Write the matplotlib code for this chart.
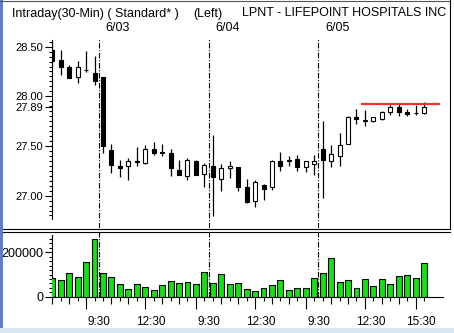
import matplotlib
matplotlib.use('Agg')
import matplotlib.pyplot as plt
import matplotlib.transforms as mtransforms
from matplotlib.patches import Rectangle
import numpy as np

plt.rcParams['font.family'] = ['Liberation Sans', 'DejaVu Sans']

# ---------------- data ----------------
opens = [28.47, 28.37, 28.30, 28.19, 28.26, 28.23, 28.19, 27.46, 27.30, 27.30,
         27.35, 27.33, 27.47, 27.44, 27.43, 27.26, 27.20, 27.35, 27.22, 27.30,
         27.17, 27.28, 27.29, 27.09, 26.95, 27.11, 27.09, 27.35, 27.35, 27.37,
         27.29, 27.32, 27.47, 27.35, 27.40, 27.52, 27.79, 27.755, 27.75, 27.77,
         27.84, 27.89, 27.84, 27.83, 27.83]
closes = [28.355, 28.30, 28.18, 28.29, 28.265, 28.15, 27.50, 27.31, 27.28, 27.35,
          27.34, 27.47, 27.43, 27.43, 27.28, 27.21, 27.36, 27.21, 27.31, 27.19,
          27.28, 27.30, 27.09, 26.94, 27.14, 27.07, 27.35, 27.30, 27.355, 27.29,
          27.35, 27.35, 27.36, 27.42, 27.51, 27.79, 27.77, 27.76, 27.79, 27.845,
          27.89, 27.84, 27.82, 27.835, 27.89]
highs = [28.56, 28.47, 28.32, 28.36, 28.46, 28.41, 28.19, 27.52, 27.36, 27.38,
         27.49, 27.51, 27.54, 27.52, 27.47, 27.36, 27.38, 27.36, 27.33, 27.61,
         27.32, 27.35, 27.29, 27.17, 27.16, 27.12, 27.36, 27.44, 27.40, 27.41,
         27.35, 27.41, 27.75, 27.51, 27.63, 27.80, 27.875, 27.86, 27.79, 27.855,
         27.915, 27.93, 27.875, 27.91, 27.94]
lows = [28.30, 28.21, 28.18, 28.13, 28.24, 28.11, 27.43, 27.23, 27.19, 27.16,
        27.30, 27.32, 27.41, 27.40, 27.20, 27.21, 27.16, 27.21, 27.09, 26.79,
        27.05, 27.18, 27.05, 26.93, 26.89, 26.96, 27.06, 27.25, 27.30, 27.25,
        27.24, 27.21, 26.98, 27.29, 27.30, 27.52, 27.72, 27.70, 27.74, 27.76,
        27.81, 27.80, 27.80, 27.81, 27.82]
volumes = [83000, 74000, 105000, 87000, 155000, 258000, 108000, 87000, 56000, 33000,
           56000, 42000, 29000, 51000, 69000, 60000, 65000, 56000, 110000, 60000,
           101000, 56000, 60000, 33000, 27000, 38000, 51000, 74000, 29000, 38000,
           38000, 83000, 108000, 173000, 68000, 74000, 38000, 78000, 47000, 78000,
           56000, 92000, 96000, 83000, 150000]
bar_times = ["13:00", "13:30", "14:00", "14:30", "15:00", "15:30"] + \
            ["9:30", "10:00", "10:30", "11:00", "11:30", "12:00", "12:30",
             "13:00", "13:30", "14:00", "14:30", "15:00", "15:30"] * 3
day_labels = ["6/03", "6/04", "6/05"]
day_start_bars = [6, 19, 32]
xtick_labels = ["9:30", "12:30", "9:30", "12:30", "9:30", "12:30", "15:30"]
xtick_bars = [6, 12, 19, 25, 32, 38, 44]
price_ticks = [27.00, 27.50, 27.89, 28.00, 28.50]
ref_price = 27.92
vol_ticks = [0, 200000]
title_parts = ["Intraday(30-Min) ( Standard* )", "(Left)", "LPNT - LIFEPOINT HOSPITALS INC"]

# ---------------- figure ----------------
W, H = 454, 333
fig = plt.figure(figsize=(W / 100, H / 100), dpi=100)
fig.patch.set_facecolor('white')


def px_axes(x0, y0, x1, y1, **kw):
    return fig.add_axes([x0 / W, 1 - y1 / H, (x1 - x0) / W, (y1 - y0) / H], **kw)


XLIM = (-0.07, 46.95)
n = len(opens)
x = np.arange(n)
o = np.array(opens); c = np.array(closes)

ax_p = px_axes(51.7, 38, 449, 228)
ax_v = px_axes(51.7, 231, 449, 296.7)

for ax in (ax_p, ax_v):
    ax.set_facecolor('none')
    ax.set_xlim(*XLIM)
    for s in ('top', 'right'):
        ax.spines[s].set_visible(False)
    ax.spines['left'].set_linewidth(0.8)

# ---- price panel ----
ax_p.set_ylim(26.674, 28.587)
ax_p.spines['bottom'].set_visible(False)
ax_p.spines['left'].set_bounds(26.76, 28.57)
ax_p.set_xticks([])
ax_p.set_yticks(price_ticks)
ax_p.set_yticklabels(['%.2f' % v for v in price_ticks])
ax_p.set_yticks(np.arange(26.80, 28.56, 0.05), minor=True)
ax_p.tick_params(axis='y', which='major', length=5, width=0.8, labelsize=8, pad=1)
ax_p.tick_params(axis='y', which='minor', length=2.2, width=0.8)

colors = ['black' if cc < oo else 'white' for oo, cc in zip(o, c)]
ax_p.vlines(x, lows, highs, color='black', lw=0.9, zorder=2)
ax_p.bar(x, np.maximum(np.abs(c - o), 0.004), bottom=np.minimum(o, c), width=0.47,
         color=colors, edgecolor='black', linewidth=0.8, zorder=3)
ax_p.hlines(ref_price, 36.5, 45.9, color='#ee3030', lw=1.6, zorder=4)

dash = (0, (5, 1.5, 1, 1.5))
blend_p = mtransforms.blended_transform_factory(ax_p.transData, ax_p.transAxes)
for b, lbl in zip(day_start_bars, day_labels):
    ax_p.axvline(b - 0.5, color='black', lw=0.8, ls=dash, zorder=1)
    ax_v.axvline(b - 0.5, color='black', lw=0.8, ls=dash, zorder=1)
    ax_p.text(b - 0.5 + 0.83, 1.055, lbl, transform=blend_p, ha='left', va='center',
              fontsize=9, clip_on=False)

# ---- volume panel ----
ax_v.set_ylim(0, 296000)
ax_v.spines['left'].set_bounds(0, 279000)
ax_v.spines['bottom'].set_bounds(XLIM[0], 46.2)
ax_v.spines['bottom'].set_linewidth(0.8)
ax_v.bar(x, volumes, width=0.7, color='#14e014', edgecolor='black', linewidth=0.8, zorder=3)
ax_v.set_yticks(vol_ticks)
ax_v.set_yticklabels([str(v) for v in vol_ticks])
ax_v.set_yticks(np.arange(20000, 270000, 20000), minor=True)
ax_v.tick_params(axis='y', which='major', length=5, width=0.8, labelsize=9, pad=1)
ax_v.tick_params(axis='y', which='minor', length=2.2, width=0.8)
ax_v.set_xticks([])

blend_v = mtransforms.blended_transform_factory(ax_v.transData, ax_v.transAxes)
vh = 65.7
for i, t in enumerate(bar_times):
    if t in ("12:00", "15:00"):
        L = 12
    elif t.endswith(":00"):
        L = 7
    else:
        L = 4
    ax_v.plot([i, i], [0, -L / vh], transform=blend_v, color='black', lw=0.8,
              clip_on=False, solid_capstyle='butt')
for b, lbl in zip(xtick_bars, xtick_labels):
    pos = b - 0.5 if lbl == "9:30" else b - 0.35
    ax_v.text(pos, -0.385, lbl, transform=blend_v, ha='center', va='center',
              fontsize=8.5, clip_on=False)

# ---- frame decoration ----
ax_o = fig.add_axes([0, 0, 1, 1], zorder=10)
ax_o.set_xlim(0, W); ax_o.set_ylim(H, 0); ax_o.axis('off')
ax_o.add_patch(Rectangle((0, 0), 2.5, H, color='#5b7fcf', lw=0))
ax_o.add_patch(Rectangle((0, 328), W, 5, color='#dbe6f4', lw=0))
ax_o.plot([0, 450], [0.5, 0.5], color='#555555', lw=0.8)
ax_o.plot([449.5, 449.5], [0, 229], color='black', lw=0.8)
ax_o.plot([2.5, 449.5], [228.5, 228.5], color='black', lw=0.8)
ax_o.plot([2.5, 449.5], [231.5, 231.5], color='black', lw=0.8)

ax_t = fig.add_axes([0, 0, 449 / W, 1], zorder=11)
ax_t.set_xlim(0, 449); ax_t.set_ylim(H, 0); ax_t.axis('off')
for xp, txt in zip([12.3, 193, 241.7], title_parts):
    ax_t.text(xp, 13.5, txt, ha='left', va='center', fontsize=9, clip_on=False)

fig.savefig('out.png', dpi=100, facecolor='white')
